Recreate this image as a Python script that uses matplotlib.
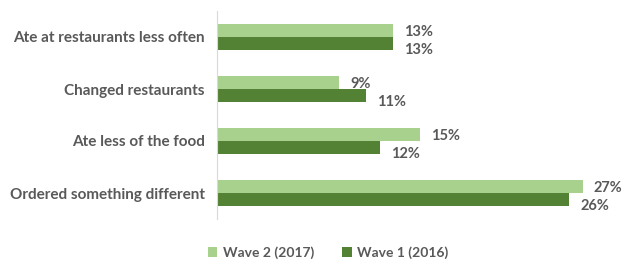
import numpy as np
import matplotlib
matplotlib.use("Agg")
import matplotlib.pyplot as plt
from matplotlib.transforms import offset_copy

categories = ["Ate at restaurants less often", "Changed restaurants",
              "Ate less of the food", "Ordered something different"]
wave2 = [13, 9, 15, 27]
wave1 = [13, 11, 12, 26]
series_names = ["Wave 2 (2017)", "Wave 1 (2016)"]

c_light = "#A9D18E"
c_dark = "#548235"
txt = "#595959"

plt.rcParams['font.family'] = ['Lato', 'DejaVu Sans']

fig = plt.figure(figsize=(6.25, 2.62), dpi=100)
ax = fig.add_axes([217 / 625, 1 - 219 / 262, 408 / 625, 208 / 262])

y = np.arange(len(categories))
h = 0.25
ax.barh(y - h / 2, wave2, height=h, color=c_light, label=series_names[0])
ax.barh(y + h / 2, wave1, height=h, color=c_dark, label=series_names[1])

ax.set_ylim(len(categories) - 0.5, -0.5)
ax.set_xlim(0, 30.1)
ax.set_yticks(y)
ax.set_yticklabels(categories, fontsize=11, fontweight='bold', color=txt)
ax.tick_params(axis='y', length=0, pad=9)
ax.set_xticks([])
for s in ["top", "right", "bottom"]:
    ax.spines[s].set_visible(False)
ax.spines["left"].set_color("#D9D9D9")

# value labels (Excel puts the lower ones a bit low)
for i in range(len(categories)):
    t2 = offset_copy(ax.transData, fig=fig, x=11, y=-1, units='dots')
    ax.text(wave2[i], y[i] - h / 2, f"{wave2[i]}%", transform=t2, va='center',
            ha='left', fontsize=10.5, fontweight='bold', color=txt)
    t1 = offset_copy(ax.transData, fig=fig, x=11, y=-6, units='dots')
    ax.text(wave1[i], y[i] + h / 2, f"{wave1[i]}%", transform=t1, va='center',
            ha='left', fontsize=10.5, fontweight='bold', color=txt)

leg = fig.legend(loc='center', bbox_to_anchor=(328 / 625, 1 - 253 / 262), ncol=2,
                 frameon=False, handlelength=0.7, handleheight=0.7,
                 handletextpad=0.4, columnspacing=2.0,
                 prop={'family': ['Lato', 'DejaVu Sans'], 'weight': 'bold', 'size': 10})
for t in leg.get_texts():
    t.set_color(txt)

fig.savefig("out.png", dpi=100)
